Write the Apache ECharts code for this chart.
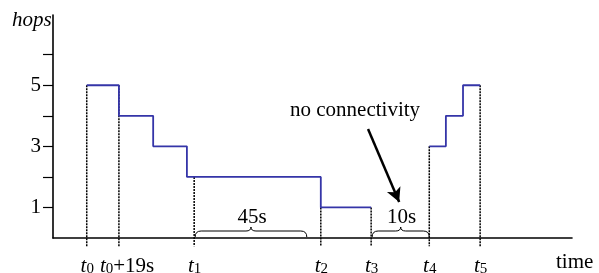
<!DOCTYPE html>
<html>
<head>
<meta charset="utf-8">
<script src="https://cdn.jsdelivr.net/npm/echarts@6/dist/echarts.min.js"></script>
<style>html,body{margin:0;padding:0;background:#fff}#c{width:599px;height:273px}</style>
</head>
<body>
<div id="c"></div>
<script>
// ---- data ----
const tickNames = ['t0', 't0+19s', 't1', 't2', 't3', 't4', 't5'];
const tickPos   = [6.5, 12.7, 27.2, 51.6, 61.3, 72.5, 82.3];
const dropTops  = [5, 5, 2, 1, 1, 3, 5];
const stepX1    = [6.5, 12.7, 19.3, 25.8, 51.6, 61.3];
const stepHops1 = [5, 4, 3, 2, 1, 1];
const stepX2    = [72.5, 75.7, 79.0, 82.3];
const stepHops2 = [3, 4, 5, 5];
const yTicks    = [1, 2, 3, 4, 5, 6];
const yLabels   = [1, 3, 5];
const braceFrom = [27.2, 61.3];
const braceTo   = [48.9, 72.5];
const braceText = ['45s', '10s'];
const arrowFrom = [60.7, 3.57];
const arrowTo   = [66.7, 1.18];

const FONT = '"Liberation Serif","Times New Roman",serif';
const BLUE = '#3535a8';
const FS = 21;

const chart = echarts.init(document.getElementById('c'), null, {renderer: 'canvas'});

const dropSeries = tickPos.map((x, i) => ({
  type: 'line', clip: false, silent: true, symbol: 'none', z: 2,
  data: [[x, dropTops[i]], [x, -0.27]],
  lineStyle: {color: '#000', width: 1.5, type: [2, 1]}
}));

const option = {
  animation: false,
  grid: {left: 53, right: 27, top: 15, bottom: 35, containLabel: false, outerBoundsMode: 'none'},
  xAxis: {
    type: 'value', min: 0, max: 100,
    splitLine: {show: false},
    axisLine: {lineStyle: {color: '#000', width: 1.6}},
    axisTick: {show: false},
    axisLabel: {show: false}
  },
  yAxis: {
    type: 'value', min: 0, max: 7.3,
    splitLine: {show: false},
    axisLine: {lineStyle: {color: '#000', width: 1.6}},
    axisTick: {show: true, customValues: yTicks, length: 10, lineStyle: {color: '#000', width: 1.2}},
    axisLabel: {customValues: yLabels, hideOverlap: false, margin: 12, fontFamily: FONT, fontSize: FS, color: '#000'}
  },
  graphic: [
    {type: 'text', left: 12, top: 10, style: {text: 'hops', fontFamily: FONT, fontStyle: 'italic', fontSize: FS, fill: '#000'}},
    {type: 'text', left: 556, top: 252, style: {text: 'time', fontFamily: FONT, fontSize: FS, fill: '#000'}},
    {type: 'text', left: 290, top: 100, style: {text: 'no connectivity', fontFamily: FONT, fontSize: FS, fill: '#000'}}
  ],
  series: dropSeries.concat([
    {
      type: 'line', step: 'end', symbol: 'none', z: 5, silent: true,
      data: stepX1.map((x, i) => [x, stepHops1[i]]),
      lineStyle: {color: BLUE, width: 1.8}
    },
    {
      type: 'line', step: 'end', symbol: 'none', z: 5, silent: true,
      data: stepX2.map((x, i) => [x, stepHops2[i]]),
      lineStyle: {color: BLUE, width: 1.8},
      markLine: {
        silent: true, animation: false,
        symbol: ['none', 'arrow'], symbolSize: [11, 14],
        label: {show: false},
        lineStyle: {color: '#000', width: 2.5, type: 'solid'},
        data: [[{coord: arrowFrom}, {coord: arrowTo}]]
      }
    },
    {
      // x tick labels (t0, t0+19s, t1 ...) placed through the x scale
      type: 'custom', silent: true, clip: false, z: 6,
      data: tickPos.map((x, i) => [x, i]),
      renderItem: function (params, api) {
        const p = api.coord([api.value(0), 0]);
        const n = tickNames[api.value(1)];
        const sub = n.charAt(1);
        const rest = n.slice(2);
        const txt = '{t|t}{s|' + sub + '}' + (rest ? '{r|' + rest + '}' : '');
        return {
          type: 'text',
          x: rest ? p[0] - 19 : p[0] + 0.5,
          y: p[1] + 8,
          style: {
            text: txt,
            textAlign: rest ? 'left' : 'center',
            textVerticalAlign: 'top',
            rich: {
              t: {fontFamily: FONT, fontStyle: 'italic', fontSize: FS, fill: '#000', verticalAlign: 'bottom'},
              s: {fontFamily: FONT, fontSize: 15, fill: '#000', padding: [16, 0, 0, 0], verticalAlign: 'bottom'},
              r: {fontFamily: FONT, fontSize: FS, fill: '#000', verticalAlign: 'bottom'}
            }
          }
        };
      }
    },
    {
      type: 'custom', silent: true, clip: false, z: 6,
      data: braceFrom.map((f, i) => [f, braceTo[i], i]),
      renderItem: function (params, api) {
        const a = api.coord([api.value(0), 0]);
        const b = api.coord([api.value(1), 0]);
        const x0 = a[0] + 1, x1 = b[0], y0 = a[1] - 1;
        const xm = (x0 + x1) / 2;
        const yf = y0 - 6, yt = y0 - 10;
        const d = 'M' + x0 + ' ' + y0 + ' Q' + x0 + ' ' + yf + ' ' + (x0 + 6) + ' ' + yf +
          ' L' + (xm - 5) + ' ' + yf + ' Q' + xm + ' ' + yf + ' ' + xm + ' ' + yt +
          ' Q' + xm + ' ' + yf + ' ' + (xm + 5) + ' ' + yf +
          ' L' + (x1 - 6) + ' ' + yf + ' Q' + x1 + ' ' + yf + ' ' + x1 + ' ' + y0;
        return {
          type: 'group',
          children: [
            {type: 'path', shape: {pathData: d}, style: {fill: null, stroke: '#000', lineWidth: 1}},
            {type: 'text', x: xm + 1, y: y0 - 20, style: {
              text: braceText[api.value(2)], fontFamily: FONT, fontSize: FS, fill: '#000',
              textAlign: 'center', textVerticalAlign: 'middle'}}
          ]
        };
      }
    }
  ])
};
chart.setOption(option);
</script>
</body>
</html>
